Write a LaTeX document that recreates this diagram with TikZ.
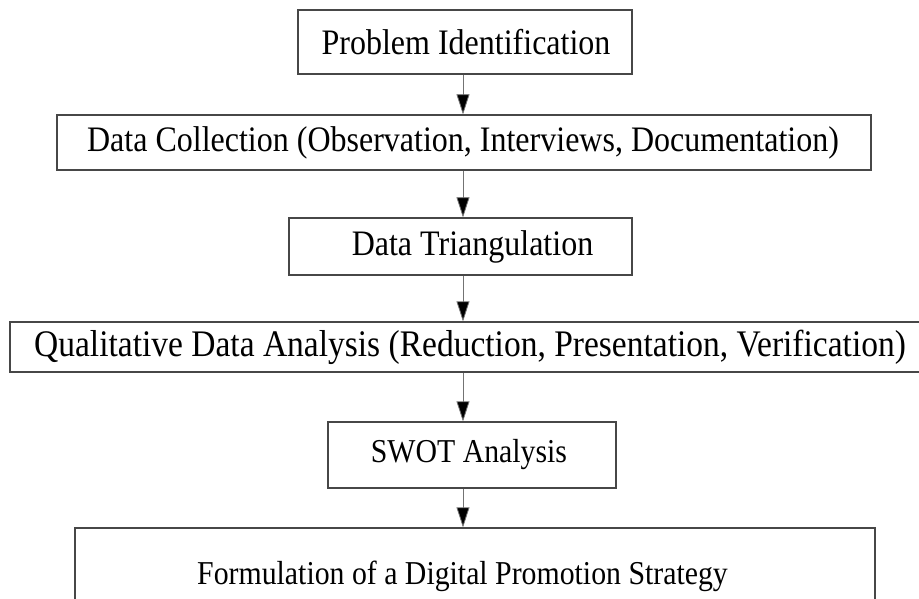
\documentclass[tikz,border=0pt]{standalone}
\usepackage{graphicx}
\usepackage{fontspec}
\setmainfont{Liberation Serif}
\usetikzlibrary{arrows.meta,calc}
% labels are set a little taller than the font's natural shape
\newcommand\tallsetting[1]{\scalebox{1}[1.12]{#1}}
\tikzset{
  stagebox/.style={draw=black!72, line width=1.3pt, fill=white, inner sep=0pt},
  stagetext/.style={inner sep=0pt, font=\fontsize{32}{34}\selectfont, text=black},
  widetext/.style={stagetext, font=\fontsize{33.5}{35}\selectfont},
  smalltext/.style={stagetext, font=\fontsize{29.8}{32}\selectfont},
  flow/.style={draw=black!55, line width=0.8pt,
    -{Triangle[length=20pt,width=13pt,fill=black]}}
}
\begin{document}
\begin{tikzpicture}[x=1pt,y=-1pt]
  \useasboundingbox (0,0) rectangle (919,599);
  \clip (0,0) rectangle (919,599);
  \fill[white] (0,0) rectangle (919,599);
  % stage frames
  \node[stagebox, minimum width=334pt, minimum height=64pt] (b1) at (465,42) {};
  \node[stagebox, minimum width=814pt, minimum height=55pt] (b2) at (464,142.5) {};
  \node[stagebox, minimum width=343pt, minimum height=57pt] (b3) at (460.5,246.5) {};
  \node[stagebox, minimum width=920pt, minimum height=50pt] (b4) at (470,347) {};
  \node[stagebox, minimum width=288pt, minimum height=66pt] (b5) at (472,455) {};
  \node[stagebox, minimum width=800pt, minimum height=96pt] (b6) at (475,576) {};
  % stage labels
  \node[stagetext] (t1) at (466,42) {\tallsetting{Problem Identification}};
  \node[stagetext] (t2) at (463,142.5) {\tallsetting{Data Collection (Observation, Interviews, Documentation)}};
  \node[stagetext] (t3) at (472.5,246.5) {\tallsetting{Data Triangulation}};
  \node[widetext] (t4) at (470,347) {\tallsetting{Qualitative Data Analysis (Reduction, Presentation, Verification)}};
  \node[smalltext] (t5) at (469,455) {\tallsetting{SWOT Analysis}};
  \node[smalltext] (t6) at (462.5,576) {\tallsetting{Formulation of a Digital Promotion Strategy}};
  % connectors along one vertical axis
  \coordinate (axis) at (463,0);
  \draw[flow] (b1.south -| axis) -- (b2.north -| axis);
  \draw[flow] (b2.south -| axis) -- (b3.north -| axis);
  \draw[flow] (b3.south -| axis) -- (b4.north -| axis);
  \draw[flow] (b4.south -| axis) -- (b5.north -| axis);
  \draw[flow] (b5.south -| axis) -- (b6.north -| axis);
\end{tikzpicture}
\end{document}
